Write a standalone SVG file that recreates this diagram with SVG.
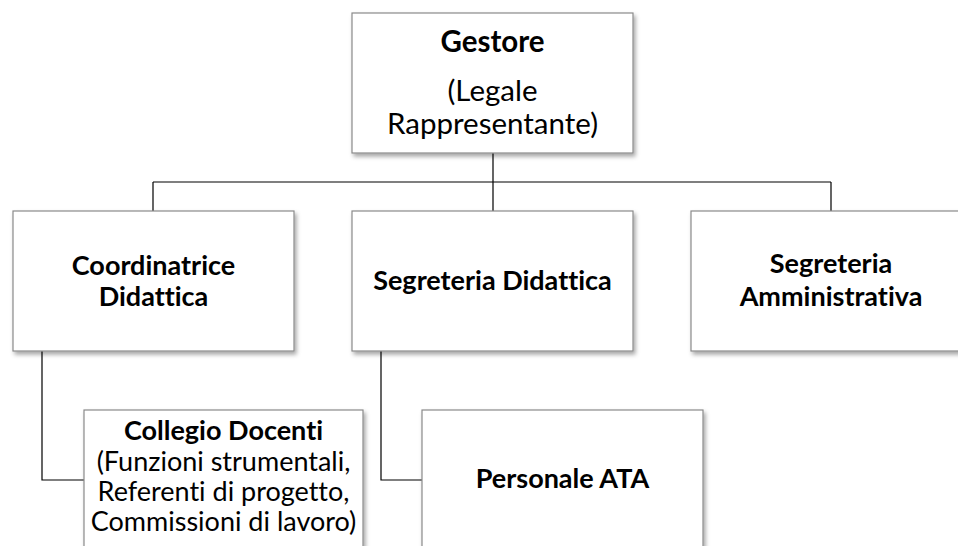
<svg xmlns="http://www.w3.org/2000/svg" width="958" height="546" viewBox="0 0 958 546">
<defs>
<filter id="sh" x="-10%" y="-10%" width="125%" height="130%">
<feDropShadow dx="2" dy="3" stdDeviation="2" flood-color="#000" flood-opacity="0.35"/>
</filter>
</defs>
<style>
.box{fill:#fff;stroke:#8a8a8a;stroke-width:1.2;filter:url(#sh)}
.con{fill:none;stroke:#000;stroke-width:1.2}
text{font-family:Lato,"Liberation Sans",sans-serif;fill:#000;text-anchor:middle;font-variant-ligatures:none;font-feature-settings:"liga" 0}
.b{font-weight:bold}
.big{font-size:29.5px}
.md{font-size:27px}
</style>
<rect width="958" height="546" fill="#fff"/>
<g id="connectors">
<path class="con" d="M493 153V211M153 182H831M153 182V211M831 182V211"/>
<path class="con" d="M42 351V480H84"/>
<path class="con" d="M381 351V480H422"/>
</g>
<g id="gestore">
<rect class="box" x="352" y="13" width="281" height="140"/>
<text class="big b" x="492.5" y="52">Gestore</text>
<text class="big" x="492.5" y="101">(Legale</text>
<text class="big" x="492.5" y="133.5">Rappresentante)</text>
</g>
<g id="coordinatrice">
<rect class="box" x="13" y="211" width="281" height="140"/>
<text class="md b" x="153.5" y="275">Coordinatrice</text>
<text class="md b" x="153.5" y="306">Didattica</text>
</g>
<g id="segreteria-didattica">
<rect class="box" x="352" y="211" width="281" height="140"/>
<text class="md b" x="492.5" y="290">Segreteria Didattica</text>
</g>
<g id="segreteria-amministrativa">
<rect class="box" x="691" y="211" width="281" height="140"/>
<text class="md b" x="831" y="273">Segreteria</text>
<text class="md b" x="831" y="306">Amministrativa</text>
</g>
<g id="collegio-docenti">
<rect class="box" x="84" y="410" width="279" height="140"/>
<text class="md b" x="223.5" y="440">Collegio Docenti</text>
<text class="md" x="223.5" y="471">(Funzioni strumentali,</text>
<text class="md" x="223.5" y="501">Referenti di progetto,</text>
<text class="md" x="223.5" y="531">Commissioni di lavoro)</text>
</g>
<g id="personale-ata">
<rect class="box" x="422" y="410" width="281" height="140"/>
<text class="md b" x="562.5" y="488">Personale ATA</text>
</g>
</svg>
